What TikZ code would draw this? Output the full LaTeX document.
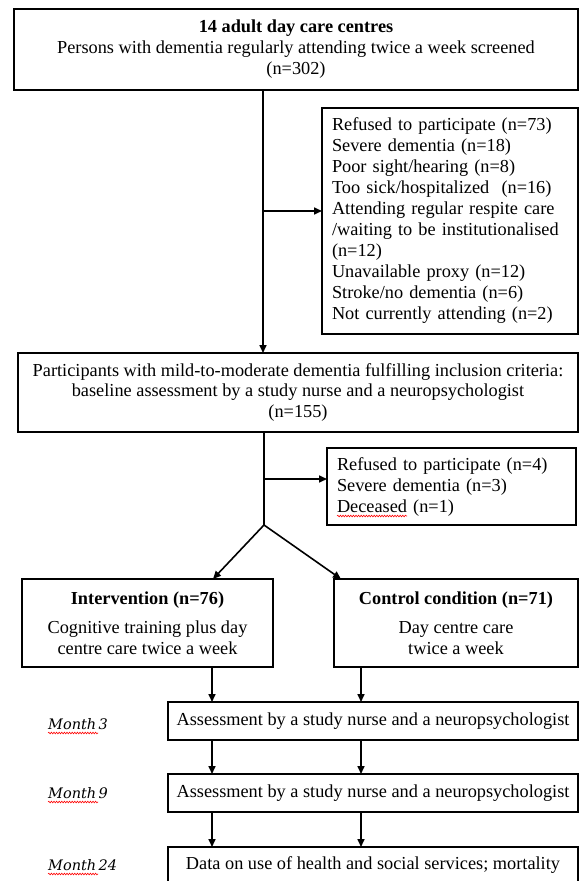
\documentclass[tikz,border=0pt]{standalone}
\usepackage{fontspec}
\setmainfont{Liberation Serif}
\newfontfamily\monthfont{DejaVu Serif}
\usetikzlibrary{arrows.meta,decorations.pathmorphing}
\begin{document}
\begin{tikzpicture}[x=1pt,y=-1pt,
  box/.style={draw,line width=1.6pt,inner sep=0pt,outer sep=0pt,anchor=north west,font=\fontsize{18.3}{21}\selectfont},
  arr/.style={line width=1.6pt,-{Triangle[length=8pt,width=7pt]}},
  ln/.style={line width=1.6pt},
  squig/.style={red,line width=0.6pt,decorate,decoration={snake,amplitude=0.8pt,segment length=2.6pt}},
  month/.style={font=\monthfont\fontsize{14.5}{18}\selectfont\itshape,anchor=west,inner sep=0pt}]
\useasboundingbox (0,0) rectangle (579,881);

\node[box,minimum width=564pt,minimum height=81pt,align=center] (top) at (14,9)
  {\textbf{14 adult day care centres}\\Persons with dementia regularly attending twice a week screened\\(n=302)};
\node[box,inner xsep=10pt,text width=236pt,minimum height=226pt,align=left] (ex1) at (322,108)
  {Refused to participate (n=73)\\Severe dementia (n=18)\\Poor sight/hearing (n=8)\\Too sick/hospitalized\ \ (n=16)\\Attending regular respite care\\/waiting to be institutionalised\\(n=12)\\Unavailable proxy (n=12)\\Stroke/no dementia (n=6)\\Not currently attending (n=2)};
\node[box,minimum width=560pt,minimum height=79pt,align=center] (base) at (18,353)
  {Participants with mild-to-moderate dementia fulfilling inclusion criteria:\\baseline assessment by a study nurse and a neuropsychologist\\(n=155)};
\node[box,inner xsep=10pt,text width=229pt,minimum height=77pt,align=left] (ex2) at (327,448)
  {Refused to participate (n=4)\\Severe dementia (n=3)\\Deceased (n=1)};
\node[box,minimum width=251pt,minimum height=88pt,align=center] (int) at (22,579)
  {\textbf{Intervention (n=76)}\\[8pt]Cognitive training plus day\\centre care twice a week};
\node[box,minimum width=244pt,minimum height=88pt,align=center] (ctl) at (334,579)
  {\textbf{Control condition (n=71)}\\[8pt]Day centre care\\twice a week};
\node[box,minimum width=410pt,minimum height=38pt,align=center] (m3) at (168,702)
  {Assessment by a study nurse and a neuropsychologist};
\node[box,minimum width=410pt,minimum height=38pt,align=center] (m9) at (168,774)
  {Assessment by a study nurse and a neuropsychologist};
\node[box,minimum width=410pt,minimum height=36pt,align=center] (m24) at (168,847)
  {Data on use of health and social services; mortality};

\node[month] (l3) at (48,724) {Month\,3};
\node[month] (l9) at (48,793) {Month\,9};
\node[month] (l24) at (48,865) {Month\,24};
\draw[squig] ([yshift=-9pt]l3.west) -- ++(50,0);
\draw[squig] ([yshift=-9pt]l9.west) -- ++(50,0);
\draw[squig] ([yshift=-9pt]l24.west) -- ++(50,0);
\draw[squig] ([shift={(10pt,9pt)}]ex2.south west) -- ++(70,0);

\coordinate (j1) at (263,211);
\coordinate (j2) at (264,479);
\coordinate (sp) at (264,525);
\coordinate (ia) at (213,0);
\coordinate (ca) at (341,0);
\coordinate (cl) at (212,0);
\coordinate (cr) at (361,0);

\draw[arr] (top.south -| j1) -- (base.north -| j1);
\draw[arr] (j1) -- (ex1.west |- j1);
\draw[ln] (base.south -| j2) -- (sp);
\draw[arr] (j2) -- (ex2.west |- j2);
\draw[arr] (sp) -- (int.north -| ia);
\draw[arr] (sp) -- (ctl.north -| ca);
\draw[arr] (int.south -| cl) -- (m3.north -| cl);
\draw[arr] (ctl.south -| cr) -- (m3.north -| cr);
\draw[arr] (m3.south -| cl) -- (m9.north -| cl);
\draw[arr] (m3.south -| cr) -- (m9.north -| cr);
\draw[arr] (m9.south -| cl) -- (m24.north -| cl);
\draw[arr] (m9.south -| cr) -- (m24.north -| cr);
\end{tikzpicture}
\end{document}
